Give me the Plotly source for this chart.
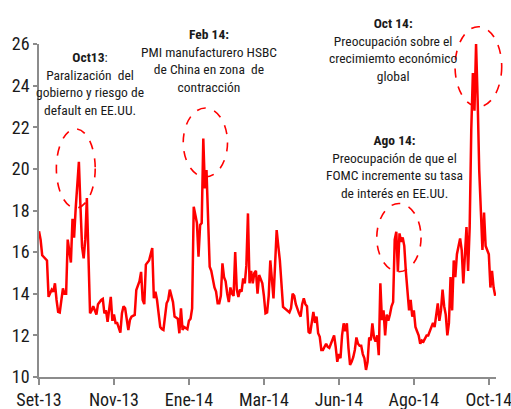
import plotly.graph_objects as go

# Trading-day index (from Sep-13) and index level
days = [0, 1, 2, 4, 5, 6, 8, 9, 10, 11, 12, 13, 15, 16, 17, 18, 20, 21, 22, 23, 25, 26, 27, 28, 29, 30,
        32, 33, 34, 36, 37, 39, 40, 41, 42, 43, 45, 46, 47, 48, 49, 51, 52, 53, 54, 56,
        57, 58, 60, 61, 63, 64, 65, 66, 67, 69, 70, 71, 72, 73, 74, 76, 77, 78, 80, 81, 82, 84, 85, 87,
        88, 89, 90, 91, 93, 94, 95, 96,
        97, 99, 100, 101, 102, 103, 104, 105, 107, 108, 110, 111, 112, 113, 114, 115, 116, 117, 118,
        119, 120, 121, 122, 123, 124, 125, 126, 127, 128, 129, 130,
        131, 132, 133, 134, 135, 136, 137, 138, 140, 141, 142, 143, 144, 145, 146, 147, 148, 149, 150,
        151, 153, 154, 155, 157, 158, 159, 160, 161, 163, 164, 165,
        166, 167, 168, 169, 170, 172, 173, 174, 175, 176, 177, 178, 180, 181, 182, 183, 184, 185, 186,
        187, 188, 189, 190, 191, 192, 193, 194, 195, 196, 197, 198, 199, 200, 201, 202, 203, 204, 205,
        206, 207, 208, 209, 210, 211, 212, 213,
        214, 215, 216, 217, 218, 219, 220, 221, 222, 223, 224, 225, 226, 227, 228, 229, 230, 231, 232,
        233, 234, 235, 236, 237, 238, 239, 240, 241, 242, 243, 244, 245, 246, 247, 248, 249, 250, 251,
        252, 253, 254, 255, 256, 257, 258, 259, 260, 261, 262, 264, 265, 266, 267, 268, 269, 270,
        271, 272, 273, 274, 275, 276, 278, 279, 280, 281, 282, 283, 284, 285, 286]

vix = [17.0, 16.6, 15.85, 15.7, 15.6, 13.85, 14.2, 14.1, 14.5, 13.7, 13.13, 13.1, 14.26, 14.0, 14.0, 16.6,
       15.5, 17.6, 16.7, 18.1, 20.34, 18.2, 16.25, 15.7, 16.6, 18.6,
       13.06, 13.2, 13.4, 13.0, 13.5, 13.7, 13.75, 13.06, 13.2, 12.65, 13.85, 12.7, 13.0, 12.6, 12.6,
       12.13, 13.06, 13.4, 13.3, 12.26,
       12.74, 12.9, 12.98, 14.18, 14.6, 15.05, 13.7, 13.5, 15.4, 15.6, 15.9, 16.2, 13.78, 14.1, 13.7,
       12.4, 12.3, 12.26, 13.54, 13.7, 14.2, 13.6, 12.9, 12.8,
       12.1, 13.3, 12.26, 12.4, 12.3, 12.7, 12.8, 13.3,
       18.18, 17.4, 15.78, 17.3, 17.4, 21.46, 19.06, 19.94, 15.3, 15.1, 14.3, 14.1, 13.54, 13.54, 13.9,
       15.46, 14.8, 14.6, 14.0,
       13.6, 14.3, 14.0, 13.9, 16.0, 14.2, 13.85, 14.2, 14.1, 14.74, 14.5, 15.35,
       17.86, 14.5, 15.1, 14.5, 15.0, 15.1, 14.0, 14.9, 14.5, 13.9, 13.06, 13.1, 13.9, 15.6, 14.8,
       13.78, 15.4, 17.06, 16.3,
       15.6, 13.37, 13.3, 13.2, 13.1, 13.3, 14.0, 13.9, 13.5, 13.06, 12.9, 13.5,
       13.78, 13.5, 13.4, 12.17, 12.1, 13.13, 12.6, 12.9, 12.1, 11.93, 11.3, 11.3, 11.6, 11.45, 11.4,
       11.6, 11.85, 12.0, 11.45,
       10.73, 11.1, 10.9, 12.0, 12.58, 12.2, 12.58, 11.4, 10.58, 10.73, 10.95, 11.3, 11.9, 11.6, 11.5,
       11.5, 11.1, 10.9, 10.34,
       10.73, 11.9, 11.76, 12.58, 11.9, 11.7, 12.0, 11.05,
       14.5, 12.74, 13.2, 12.0, 13.0, 12.7, 13.0, 13.4, 13.6, 16.6, 16.98, 15.06, 16.9, 16.5, 16.7,
       16.3, 15.06, 14.2, 13.2,
       13.7, 12.9, 13.2, 12.4, 12.2, 12.0, 11.6, 11.75, 11.7, 11.9, 12.0, 12.0, 12.2, 12.4, 12.6, 12.4,
       12.9, 13.54, 12.7,
       13.2, 14.2, 13.4, 13.0, 12.0, 12.6, 14.8, 13.2, 15.6, 14.8, 15.9, 16.66, 16.1, 14.5, 15.8, 17.2,
       15.1, 17.2,
       21.9, 24.6, 22.8, 26.0, 23.3, 19.9, 16.1, 17.9, 16.3, 16.1, 15.9, 14.3, 15.1, 14.3, 13.9]

tick_days = [0, 47, 94, 141, 188, 235, 282]
tick_labels = ["Set-13", "Nov-13", "Ene-14", "Mar-14", "Jun-14", "Ago-14", "Oct-14"]
y_ticks = [10, 12, 14, 16, 18, 20, 22, 24, 26]

notes = [
    "<b>Oct13</b>:<br>Paralización  del<br>gobierno y riesgo de<br>default en EE.UU.",
    "<b>Feb 14:</b><br>PMI manufacturero HSBC<br>de China en zona  de<br>contracción",
    "<b>Oct 14:</b><br>Preocupación sobre el<br>crecimiemto económico<br>global",
    "<b>Ago 14:</b><br>Preocupación de que el<br>FOMC incremente su tasa<br>de interés en EE.UU.",
]
note_pos = [(0.112, 0.880), (0.3725, 0.950), (0.775, 0.983), (0.777, 0.632)]
ellipses = [(0.038, 0.5075, 0.123, 0.745), (0.3156, 0.6006, 0.4125, 0.8078),
            (0.9104, 0.8117, 1.0125, 1.052), (0.7391, 0.3162, 0.836, 0.521)]

FONT = "Roboto Condensed, Liberation Sans, Arial, sans-serif"

fig = go.Figure()
fig.add_trace(go.Scatter(x=days, y=vix, mode="lines",
                         line=dict(color="#FF0000", width=2.5), showlegend=False))

for txt, (ax, ay) in zip(notes, note_pos):
    fig.add_annotation(text=txt, x=ax, y=ay, xref="paper", yref="paper",
                       showarrow=False, xanchor="center", yanchor="middle", align="center",
                       font=dict(family=FONT, size=13.5, color="#1a1a1a"))

for (x0, y0, x1, y1) in ellipses:
    fig.add_shape(type="circle", xref="paper", yref="paper", x0=x0, y0=y0, x1=x1, y1=y1,
                  line=dict(color="#FF0000", width=1.6, dash="dash"))

fig.update_layout(
    width=511, height=409,
    margin=dict(l=39, r=15, t=44, b=32),
    paper_bgcolor="white", plot_bgcolor="white",
    font=dict(family=FONT, color="#1a1a1a"),
    xaxis=dict(range=[0, 286.5], tickvals=tick_days, ticktext=tick_labels,
               showgrid=False, zeroline=False, showline=True, linecolor="#8c8c8c", linewidth=1.5,
               ticks="outside", ticklen=6, tickcolor="#8c8c8c", tickwidth=1.5,
               automargin=False, ticklabeloverflow="allow",
               tickfont=dict(family=FONT, size=18, color="#1a1a1a")),
    yaxis=dict(range=[10, 26], tickvals=y_ticks,
               showgrid=False, zeroline=False, showline=True, linecolor="#8c8c8c", linewidth=1.5,
               ticks="outside", ticklen=4, tickcolor="#8c8c8c", tickwidth=1.5,
               automargin=False, ticklabeloverflow="allow",
               tickfont=dict(family=FONT, size=18, color="#1a1a1a")),
)

fig.write_html("out.html", config={"displayModeBar": False},
               post_script="document.body.style.margin='0';")
